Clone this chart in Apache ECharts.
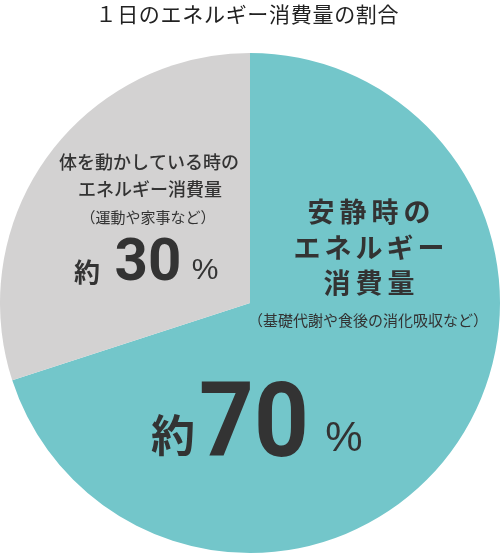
<!DOCTYPE html>
<html>
<head>
<meta charset="utf-8">
<script src="https://cdn.jsdelivr.net/npm/echarts@6/dist/echarts.min.js"></script>
<style>
html,body{margin:0;padding:0;background:#fff;}
#chart{width:500px;height:554px;}
</style>
</head>
<body>
<div id="chart"></div>
<script>
var titleText = '１日のエネルギー消費量の割合';
var categories = ['安静時のエネルギー消費量', '体を動かしている時のエネルギー消費量'];
var values = [70, 30];
var colors = ['#73c6ca', '#d3d2d2'];
var restLines = ['安静時の', 'エネルギー', '消費量'];
var restNote = '（基礎代謝や食後の消化吸収など）';
var activeLines = ['体を動かしている時の', 'エネルギー消費量'];
var activeNote = '（運動や家事など）';
var aboutText = '約';
var pctText = '%';

var JP = '"Noto Sans CJK JP", "Noto Sans", sans-serif';
var NUM = 'Roboto, "Liberation Sans", Arial, sans-serif';
var PCT = '"Liberation Sans", Arial, sans-serif';
var ink = '#333333';

function txt(x, y, text, size, weight, opts) {
  opts = opts || {};
  return {
    type: 'text', x: x, y: y, z: 10,
    scaleX: opts.scaleX || 1,
    style: {
      text: text,
      fill: opts.fill || ink,
      font: (weight || 'normal') + ' ' + size + 'px ' + (opts.family || JP),
      align: opts.align || 'center',
      verticalAlign: 'middle'
    }
  };
}
function spaced(x, y, text, size, weight, spacing, opts) {
  var chars = text.split('');
  var step = size + spacing;
  var total = step * chars.length - spacing;
  var start = x - total / 2 + size / 2;
  return chars.map(function (c, i) { return txt(start + i * step, y, c, size, weight, opts); });
}

var graphics = [];
graphics = graphics.concat(spaced(247, 14, titleText, 21, 'normal', 0.7, { fill: '#222' }));
// active (30%) label
graphics.push(txt(149, 162, activeLines[0], 18, '500'));
graphics.push(txt(150, 189, activeLines[1], 18, '500'));
graphics.push(txt(148, 217, activeNote, 15, 'normal'));
graphics.push(txt(87, 272, aboutText, 26, 'bold'));
graphics.push(txt(148, 265, String(values[1]), 60, 'bold', { family: NUM, scaleX: 0.97 }));
graphics.push(txt(205, 271, pctText, 30, 'normal', { family: PCT }));
// rest (70%) label
graphics = graphics.concat(spaced(369, 212, restLines[0], 27, 'bold', 5));
graphics = graphics.concat(spaced(369, 248, restLines[1], 27, 'bold', 4));
graphics = graphics.concat(spaced(369, 283, restLines[2], 27, 'bold', 5));
graphics.push(txt(368, 320, restNote, 15, 'normal'));
graphics.push(txt(173, 435, aboutText, 44, 'bold'));
graphics.push(txt(254, 430, String(values[0]), 104, 'bold', { family: NUM, scaleX: 0.92 }));
graphics.push(txt(344, 439, pctText, 42, 'normal', { family: PCT }));

var chart = echarts.init(document.getElementById('chart'), null, { renderer: 'canvas' });
chart.setOption({
  animation: false,
  graphic: graphics,
  series: [{
    type: 'pie',
    center: [250, 303],
    radius: [0, 250],
    startAngle: 90,
    clockwise: true,
    silent: true,
    label: { show: false },
    labelLine: { show: false },
    itemStyle: { borderWidth: 0 },
    emphasis: { disabled: true },
    data: categories.map(function (c, i) {
      return { name: c, value: values[i], itemStyle: { color: colors[i] } };
    })
  }]
});
</script>
</body>
</html>
